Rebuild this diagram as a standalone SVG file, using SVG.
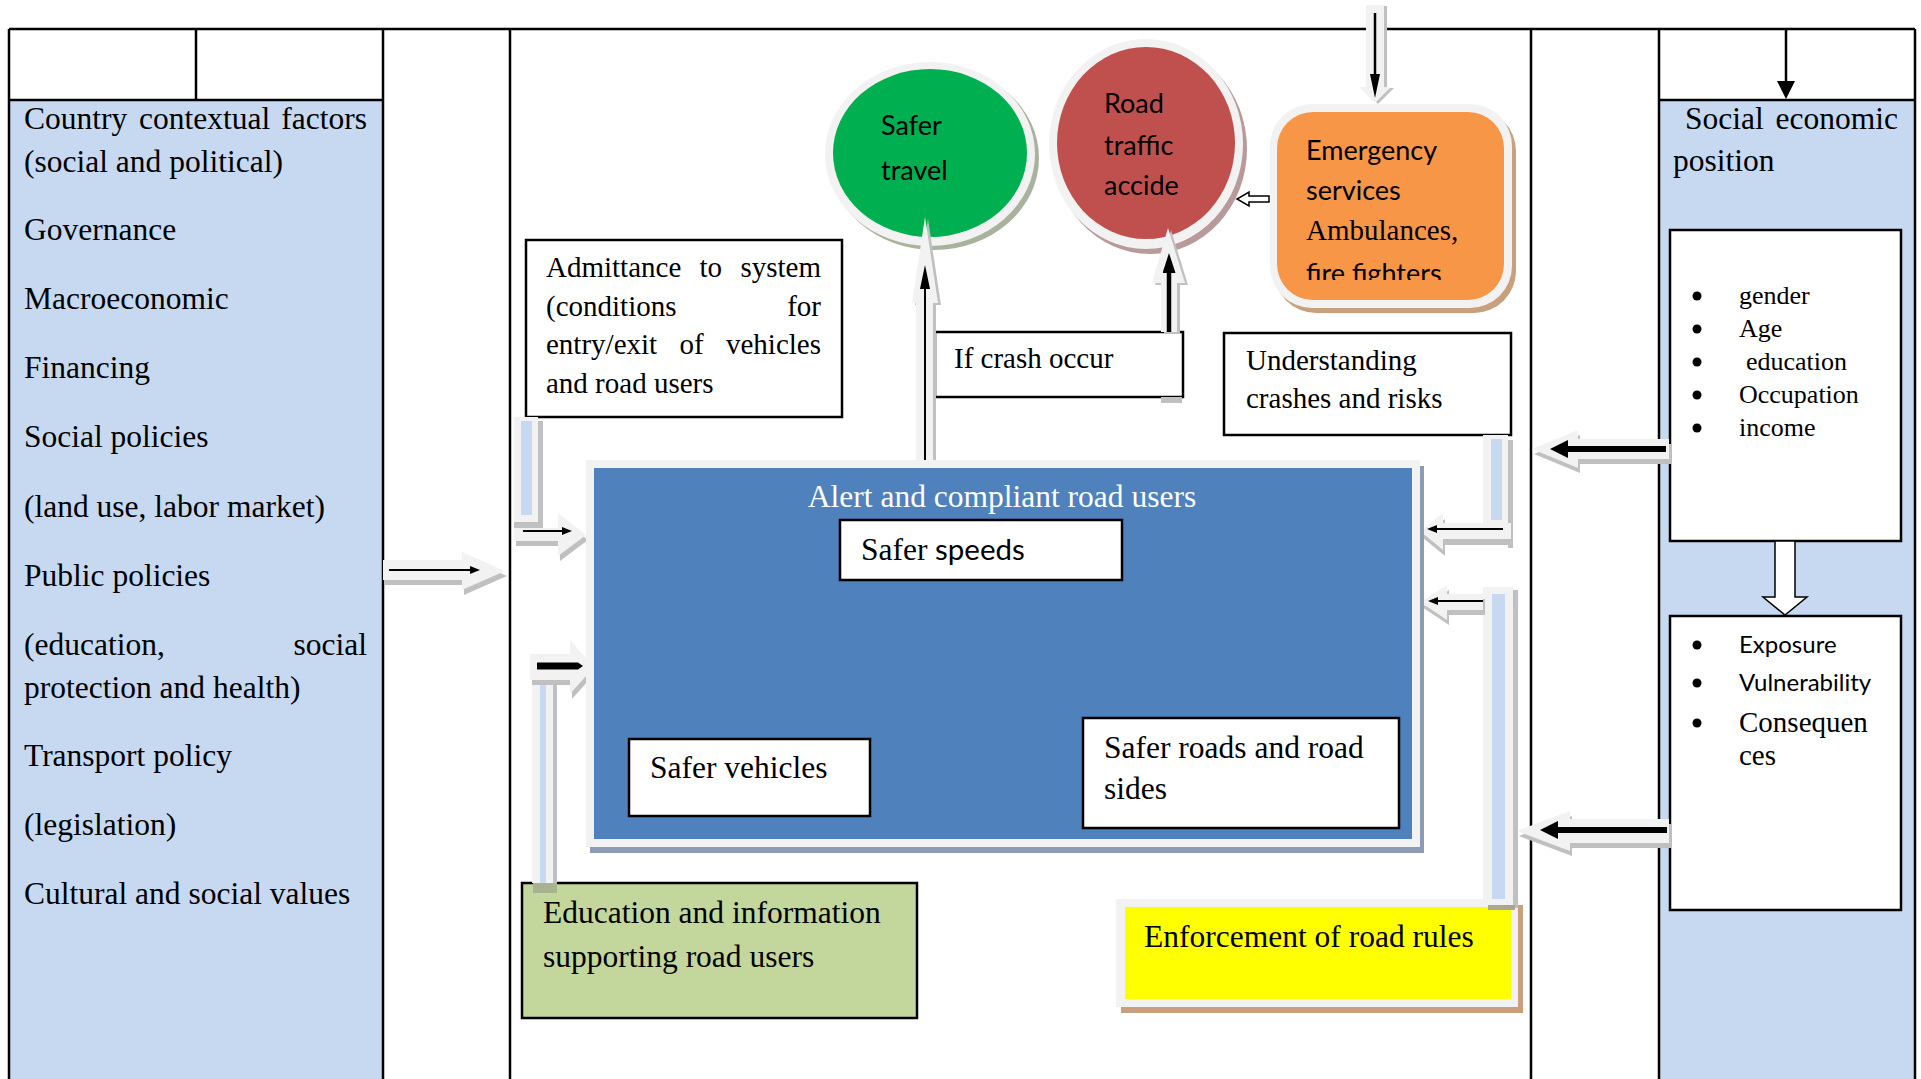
<svg xmlns="http://www.w3.org/2000/svg" width="1921" height="1079" viewBox="0 0 1921 1079">
<defs>
<style>
.tl{stroke:#000;stroke-width:2.5;fill:none}
.serif{font-family:"Liberation Serif","Times New Roman",serif;fill:#000}
.sans{font-family:Lato,"Liberation Sans",sans-serif;fill:#000}
.f31{font-size:31.5px}
.f29{font-size:29px}
.f27{font-size:27px}
.f26{font-size:26px}
.box{fill:#fff;stroke:#000;stroke-width:2.5}
.ring{fill:#f2f2f2}
.blk{fill:#f2f2f2}
.shd{fill:#c0c0c0}
.bar{fill:#c6d9f1}
.ln{stroke:#000;fill:none}
.colbg{fill:#c6d9f1}
</style>
<marker id="a1" viewBox="0 0 10 8" refX="4" refY="4" markerWidth="10" markerHeight="8" markerUnits="userSpaceOnUse" orient="auto"><path d="M0,0L10,4L0,8z"/></marker>
<marker id="a2" viewBox="0 0 18 18" refX="8" refY="9" markerWidth="18" markerHeight="18" markerUnits="userSpaceOnUse" orient="auto"><path d="M0,0L18,9L0,18z"/></marker>
<marker id="at" viewBox="0 0 24 10" refX="12" refY="5" markerWidth="24" markerHeight="10" markerUnits="userSpaceOnUse" orient="auto"><path d="M0,0L24,5L0,10z"/></marker>
<marker id="a3" viewBox="0 0 20 13" refX="8" refY="6.5" markerWidth="20" markerHeight="13" markerUnits="userSpaceOnUse" orient="auto"><path d="M0,0L20,6.5L0,13z"/></marker>
<clipPath id="clipOrange"><rect x="1277" y="112" width="227" height="168"/></clipPath>
</defs>

<g id="table">
<rect x="9" y="100" width="374" height="979" class="colbg"/>
<rect x="1659" y="100" width="256" height="979" class="colbg"/>
<path class="tl" d="M9,29H1915 M9,29V1079 M383,29V1079 M510,29V1079 M1531,29V1079 M1659,29V1079 M1915,29V1079 M196,29V100 M9,100H383 M1659,100H1915"/>
</g>

<g id="country-factors" class="serif f31">
<text y="129"><tspan x="24">Country</tspan><tspan x="139">contextual</tspan><tspan x="367" text-anchor="end">factors</tspan></text>
<text x="24" y="172">(social and political)</text>
<text x="24" y="240">Governance</text>
<text x="24" y="309">Macroeconomic</text>
<text x="24" y="378">Financing</text>
<text x="24" y="447">Social policies</text>
<text x="24" y="517">(land use, labor market)</text>
<text x="24" y="586">Public policies</text>
<text y="655"><tspan x="24">(education,</tspan><tspan x="367" text-anchor="end">social</tspan></text>
<text x="24" y="698">protection and health)</text>
<text x="24" y="766">Transport policy</text>
<text x="24" y="835">(legislation)</text>
<text x="24" y="904">Cultural and social values</text>
</g>

<g id="social-economic-position">
<text class="serif f31" y="129"><tspan x="1685">Social</tspan><tspan x="1898" text-anchor="end">economic</tspan></text>
<text class="serif f31" x="1673" y="171">position</text>
</g>

<g id="sep-factors">
<rect x="1670" y="230" width="231" height="311" class="box"/>
<g fill="#000">
<circle cx="1697" cy="296" r="4.5"/><circle cx="1697" cy="329" r="4.5"/><circle cx="1697" cy="362" r="4.5"/><circle cx="1697" cy="395" r="4.5"/><circle cx="1697" cy="428" r="4.5"/>
</g>
<g class="serif f26">
<text x="1739" y="304">gender</text>
<text x="1739" y="337">Age</text>
<text x="1746" y="370">education</text>
<text x="1739" y="403">Occupation</text>
<text x="1739" y="436">income</text>
</g>
</g>

<g id="sep-outcomes">
<rect x="1670" y="616" width="231" height="294" class="box"/>
<g fill="#000">
<circle cx="1697" cy="645" r="4.5"/><circle cx="1697" cy="683" r="4.5"/><circle cx="1697" cy="723" r="4.5"/>
</g>
<text class="sans" font-size="24" x="1739" y="653">Exposure</text>
<text class="sans" font-size="24" x="1739" y="691">Vulnerability</text>
<text class="serif f29" x="1739" y="732">Consequen</text>
<text class="serif f29" x="1739" y="765">ces</text>
</g>

<g id="safer-travel">
<ellipse cx="934" cy="158" rx="105" ry="92" fill="#a8b29c"/>
<ellipse cx="930" cy="154" rx="105" ry="92" class="ring"/>
<ellipse cx="930" cy="153" rx="97" ry="84" fill="#00b050"/>
<text class="sans f27" x="881" y="135">Safer</text>
<text class="sans f27" x="881" y="180">travel</text>
</g>

<g id="road-traffic-accident">
<ellipse cx="1150" cy="149" rx="97" ry="105" fill="#b89a9a"/>
<ellipse cx="1146" cy="144" rx="97" ry="105" class="ring"/>
<ellipse cx="1146" cy="143" rx="89" ry="96" fill="#c0504d"/>
<text class="sans f27" x="1104" y="113">Road</text>
<text class="sans f27" x="1104" y="155">traffic</text>
<text class="sans f27" x="1104" y="195">accide</text>
</g>

<g id="emergency-services">
<rect x="1274" y="109" width="242" height="204" rx="42" fill="#c9a07e"/>
<rect x="1270" y="104" width="242" height="204" rx="42" class="ring"/>
<rect x="1277" y="112" width="227" height="188" rx="36" fill="#f79646"/>
<g clip-path="url(#clipOrange)">
<text class="sans f27" x="1306" y="160">Emergency</text>
<text class="sans f27" x="1306" y="200">services</text>
<text class="serif f29" x="1306" y="240">Ambulances,</text>
<text class="sans f27" x="1306" y="283">fire fighters</text>
</g>
</g>

<g id="admittance">
<rect x="526" y="240" width="316" height="177" class="box"/>
<g class="serif f29">
<text y="277"><tspan x="546">Admittance</tspan><tspan x="699.5">to</tspan><tspan x="821" text-anchor="end">system</tspan></text>
<text y="315.5"><tspan x="546">(conditions</tspan><tspan x="821" text-anchor="end">for</tspan></text>
<text y="354"><tspan x="546">entry/exit</tspan><tspan x="679.5">of</tspan><tspan x="821" text-anchor="end">vehicles</tspan></text>
<text x="546" y="392.5">and road users</text>
</g>
</g>

<g id="if-crash-occur">
<rect x="935" y="332" width="248" height="65" class="box"/>
<text class="serif f29" x="954" y="368">If crash occur</text>
</g>

<g id="understanding-crashes">
<rect x="1224" y="333" width="287" height="102" class="box"/>
<text class="serif f29" x="1246" y="370">Understanding</text>
<text class="serif f29" x="1246" y="408">crashes and risks</text>
</g>

<g id="education-information">
<rect x="522" y="883" width="395" height="135" fill="#c3d69b" stroke="#000" stroke-width="2.5"/>
<text class="serif f31" x="543" y="923">Education and information</text>
<text class="serif f31" x="543" y="967">supporting road users</text>
</g>

<g id="enforcement">
<rect x="1121" y="905" width="402" height="108" fill="#c9a07e"/>
<rect x="1116" y="899" width="402" height="108" class="ring"/>
<rect x="1125" y="907" width="386" height="92" fill="#ffff00"/>
<text class="serif f31" x="1144" y="947">Enforcement of road rules</text>
</g>

<g id="connectors">
<!-- context column to system -->
<g>
<polygon transform="translate(2,5)" class="shd" points="383,560 462,560 462,552 505,571 462,590 462,580 383,580"/>
<polygon class="blk" points="383,560 462,560 462,552 505,571 462,590 462,580 383,580"/>
<line class="ln" stroke-width="2" x1="389" y1="570" x2="474" y2="570" marker-end="url(#a1)"/>
</g>
<!-- admittance to system -->
<g>
<rect x="514" y="417" width="24" height="108" class="blk"/>
<rect x="538" y="421" width="5" height="104" class="shd"/>
<rect x="521" y="421" width="11" height="94" class="bar"/>
<rect x="514" y="522" width="29" height="6" class="shd"/>
<polygon transform="translate(2,5)" class="shd" points="514,528 558,528 558,513 586,535 558,556 558,541 514,541"/>
<polygon class="blk" points="514,528 558,528 558,513 586,535 558,556 558,541 514,541"/>
<line class="ln" stroke-width="2" x1="523" y1="531" x2="566" y2="531" marker-end="url(#a1)"/>
</g>
<!-- education to system -->
<g>
<rect x="532" y="677" width="21" height="206" class="blk"/>
<rect x="553" y="677" width="4" height="206" class="shd"/>
<rect x="540" y="684" width="6" height="199" class="bar"/>
<rect x="533" y="883" width="24" height="10" fill="#a7b28e"/>
<polygon transform="translate(2,5)" class="shd" points="530,654 570,654 570,640 594,667 570,694 570,680 530,680"/>
<polygon class="blk" points="530,654 570,654 570,640 594,667 570,694 570,680 530,680"/>
<path d="M537,662.5H578L583,666L578,669.5H537z" fill="#000"/>
</g>
<!-- system to safer travel -->
<g>
<polygon transform="translate(3,2)" class="shd" points="916,460 916,303 912,303 925,217 938,303 933,303 933,460"/>
<polygon class="blk" points="916,460 916,303 912,303 925,217 938,303 933,303 933,460"/>
<line class="ln" stroke-width="2" x1="925" y1="460" x2="925" y2="277" marker-end="url(#at)"/>
</g>
<!-- if crash to road traffic accident -->
<g>
<rect x="1161" y="397" width="21" height="6" class="shd"/>
<polygon transform="translate(3,2)" class="shd" points="1161,332 1161,283 1152,283 1168,228 1185,283 1177,283 1177,332"/>
<polygon class="blk" points="1161,332 1161,283 1152,283 1168,228 1185,283 1177,283 1177,332"/>
<line class="ln" stroke-width="4.5" x1="1169" y1="332" x2="1169" y2="265" marker-end="url(#a3)"/>
</g>
<!-- top input to emergency services -->
<g>
<polygon transform="translate(3,1)" class="shd" points="1366,5 1384,5 1384,87 1391,87 1375,103 1359,87 1366,87"/>
<polygon class="blk" points="1366,5 1384,5 1384,87 1391,87 1375,103 1359,87 1366,87"/>
<line class="ln" stroke-width="2.5" x1="1375" y1="13" x2="1375" y2="86" marker-end="url(#at)"/>
</g>
<!-- emergency services to road traffic accident -->
<path d="M1269,196H1249V192L1237,199L1249,206V202H1269z" fill="#fff" stroke="#000" stroke-width="1.5"/>
<!-- understanding to system -->
<g>
<rect x="1483" y="435" width="25" height="97" class="blk"/>
<rect x="1508" y="440" width="5" height="108" class="shd"/>
<rect x="1491" y="439" width="11" height="81" class="bar"/>
<polygon transform="translate(2,6)" class="shd" points="1511,523 1443,523 1443,513 1420,531 1443,550 1443,539 1511,539"/>
<polygon class="blk" points="1511,523 1443,523 1443,513 1420,531 1443,550 1443,539 1511,539"/>
<line class="ln" stroke-width="2" x1="1503" y1="529" x2="1433" y2="529" marker-end="url(#a1)"/>
</g>
<!-- enforcement to system -->
<g>
<rect x="1483" y="587" width="30" height="318" class="blk"/>
<rect x="1513" y="590" width="5" height="318" class="shd"/>
<rect x="1492" y="594" width="13" height="305" class="bar"/>
<rect x="1488" y="905" width="27" height="5" fill="#a8a890"/>
<polygon transform="translate(2,5)" class="shd" points="1483,594 1447,594 1447,585 1420,602 1447,620 1447,610 1483,610"/>
<polygon class="blk" points="1483,594 1447,594 1447,585 1420,602 1447,620 1447,610 1483,610"/>
<line class="ln" stroke-width="2" x1="1483" y1="601" x2="1434" y2="601" marker-end="url(#a1)"/>
</g>
<!-- sep factors to system -->
<g>
<polygon transform="translate(2,5)" class="shd" points="1669,439 1578,439 1578,430 1532,449 1578,468 1578,459 1669,459"/>
<polygon class="blk" points="1669,439 1578,439 1578,430 1532,449 1578,468 1578,459 1669,459"/>
<line class="ln" stroke-width="6" x1="1666" y1="449" x2="1560" y2="449" marker-end="url(#a2)"/>
</g>
<!-- sep outcomes to system -->
<g>
<polygon transform="translate(2,5)" class="shd" points="1669,819 1570,819 1570,811 1517,831 1570,851 1570,843 1669,843"/>
<polygon class="blk" points="1669,819 1570,819 1570,811 1517,831 1570,851 1570,843 1669,843"/>
<line class="ln" stroke-width="6" x1="1667" y1="830" x2="1550" y2="830" marker-end="url(#a2)"/>
</g>
<!-- header to social economic position -->
<line class="ln" stroke-width="2.5" x1="1786" y1="29" x2="1786" y2="89" marker-end="url(#a2)"/>
<!-- factors to outcomes -->
<polygon points="1775,541 1795,541 1795,597 1807,597 1785,615 1763,597 1775,597" fill="#fff" stroke="#000" stroke-width="1.5"/>
</g>

<g id="alert-compliant-road-users">
<rect x="590" y="466" width="834" height="387" fill="#8e9cb3"/>
<rect x="586" y="460" width="834" height="387" class="ring"/>
<rect x="594" y="468" width="818" height="371" fill="#4f81bd"/>
<text class="serif f31" x="1002" y="507" text-anchor="middle" fill="#fff" style="fill:#fff">Alert and compliant road users</text>
</g>

<g id="safer-speeds">
<rect x="840" y="520" width="282" height="60" class="box"/>
<text x="861" y="560" font-size="31.5"><tspan class="serif">Safer</tspan><tspan class="sans" font-size="29.5"> speeds</tspan></text>
</g>

<g id="safer-vehicles">
<rect x="629" y="739" width="241" height="77" class="box"/>
<text class="serif f31" x="650" y="778">Safer vehicles</text>
</g>

<g id="safer-roads">
<rect x="1083" y="718" width="316" height="110" class="box"/>
<text class="serif f31" x="1104" y="758">Safer roads and road</text>
<text class="serif f31" x="1104" y="799">sides</text>
</g>
</svg>
